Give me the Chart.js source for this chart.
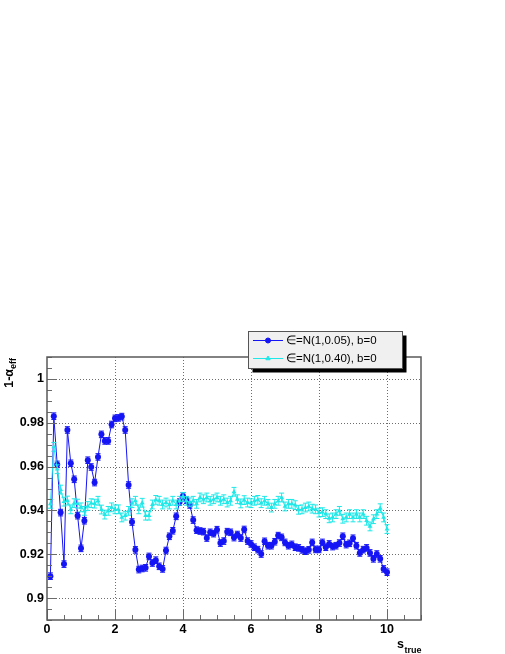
<!DOCTYPE html>
<html><head><meta charset="utf-8">
<script src="https://cdn.jsdelivr.net/npm/chart.js@4"></script>
<style>html,body{margin:0;padding:0;background:#fff;overflow:hidden}canvas{display:block}</style>
</head><body>
<canvas id="c" width="505" height="654"></canvas>
<script>
const sTrue = [0.1,0.2,0.3,0.4,0.5,0.6,0.7,0.8,0.9,1.0,1.1,1.2,1.3,1.4,1.5,1.6,1.7,1.8,1.9,2.0,
2.1,2.2,2.3,2.4,2.5,2.6,2.7,2.8,2.9,3.0,3.1,3.2,3.3,3.4,3.5,3.6,3.7,3.8,3.9,4.0,
4.1,4.2,4.3,4.4,4.5,4.6,4.7,4.8,4.9,5.0,5.1,5.2,5.3,5.4,5.5,5.6,5.7,5.8,5.9,6.0,
6.1,6.2,6.3,6.4,6.5,6.6,6.7,6.8,6.9,7.0,7.1,7.2,7.3,7.4,7.5,7.6,7.7,7.8,7.9,8.0,
8.1,8.2,8.3,8.4,8.5,8.6,8.7,8.8,8.9,9.0,9.1,9.2,9.3,9.4,9.5,9.6,9.7,9.8,9.9,10.0];

const blueValues = [0.910,0.983,0.961,0.939,0.9155,0.9767,0.9615,0.9542,0.9376,0.9227,
0.9353,0.9629,0.9598,0.9527,0.9644,0.9747,0.9717,0.9717,0.9792,0.982,
0.9822,0.9828,0.9767,0.9516,0.9347,0.922,0.913,0.9135,0.9138,0.919,
0.916,0.9173,0.9145,0.9133,0.9217,0.9282,0.9307,0.9373,0.9438,0.9466,
0.9447,0.9425,0.9356,0.931,0.9306,0.9303,0.9274,0.930,0.9294,0.9312,
0.9251,0.926,0.9303,0.930,0.9276,0.929,0.9274,0.9313,0.926,0.9247,
0.9232,0.9221,0.9201,0.9259,0.9239,0.9239,0.9257,0.9285,0.9277,0.9254,
0.9239,0.9245,0.9232,0.9229,0.922,0.9214,0.922,0.9254,0.9222,0.9222,
0.9254,0.9232,0.9247,0.9235,0.9239,0.9251,0.9282,0.9244,0.925,0.9273,
0.9239,0.9206,0.9221,0.9229,0.9206,0.9179,0.9201,0.9179,0.9133,0.9118];

const cyanValues = [0.943,0.969,0.9588,0.9495,0.944,0.9445,0.9405,0.9433,0.9431,0.9414,
0.9398,0.942,0.9433,0.9431,0.9444,0.9404,0.9381,0.9398,0.9414,0.9405,
0.9405,0.9368,0.9376,0.9398,0.9433,0.9444,0.9405,0.9435,0.9376,0.9376,
0.9427,0.9448,0.9444,0.9427,0.9436,0.9427,0.9444,0.9427,0.9444,0.9462,
0.9444,0.9437,0.9444,0.943,0.9459,0.9451,0.9459,0.9444,0.9451,0.9459,
0.9444,0.9451,0.9436,0.9444,0.9485,0.9451,0.9432,0.9447,0.9436,0.9433,
0.9444,0.9448,0.9433,0.9444,0.943,0.9413,0.943,0.9444,0.9459,0.9418,
0.943,0.943,0.9424,0.9403,0.9405,0.9413,0.9418,0.9408,0.9405,0.939,
0.9392,0.9383,0.9364,0.9368,0.9383,0.9398,0.9362,0.9368,0.9383,0.9368,
0.9383,0.9368,0.9383,0.9353,0.9327,0.936,0.9383,0.941,0.9368,0.9315];

const blueErr = 0.0015;
const cyanErr = 0.002;
const seriesLabels = ['\u2208=N(1,0.05), b=0', '\u2208=N(1,0.40), b=0'];
const xTickValues = [0,2,4,6,8,10];
const yTickValues = [0.9,0.92,0.94,0.96,0.98,1];
const xTitleMain = 's', xTitleSub = 'true';
const yTitleMain = '1-\u03B1', yTitleSub = 'eff';

const BLUE = 'rgb(20,20,245)';
const CYAN = 'rgb(30,232,232)';
const FONT = '"Liberation Sans", Arial, Helvetica, sans-serif';

function pts(vals){ return sTrue.map((x,i)=>({x:x, y:vals[i]})); }

const rootPlugin = {
  id: 'rootStyle',
  beforeDatasetsDraw(chart){
    const {ctx, chartArea:a, scales:{x,y}} = chart;
    ctx.save();
    ctx.strokeStyle = 'rgba(60,60,60,0.75)';
    ctx.lineWidth = 1;
    ctx.setLineDash([1,2]);
    xTickValues.forEach(v=>{ if(v===0) return; const px=Math.round(x.getPixelForValue(v))+0.5;
      ctx.beginPath(); ctx.moveTo(px,a.top); ctx.lineTo(px,a.bottom); ctx.stroke(); });
    yTickValues.forEach(v=>{ const py=Math.round(y.getPixelForValue(v))+0.5;
      ctx.beginPath(); ctx.moveTo(a.left,py); ctx.lineTo(a.right,py); ctx.stroke(); });
    ctx.restore();
  },
  beforeDatasetDraw(chart, args){
    const ds = chart.data.datasets[args.index];
    const err = ds.errorValue;
    const {ctx, scales:{x,y}} = chart;
    ctx.save();
    ctx.strokeStyle = ds.borderColor; ctx.lineWidth = 1;
    ds.data.forEach(p=>{
      const px = x.getPixelForValue(p.x);
      const y1 = y.getPixelForValue(p.y-err), y2 = y.getPixelForValue(p.y+err);
      ctx.beginPath();
      ctx.moveTo(px,y1); ctx.lineTo(px,y2);
      ctx.moveTo(px-2.5,y1); ctx.lineTo(px+2.5,y1);
      ctx.moveTo(px-2.5,y2); ctx.lineTo(px+2.5,y2);
      ctx.stroke();
    });
    ctx.restore();
  },
  afterDatasetsDraw(chart){
    const {ctx, chartArea:a, scales:{x,y}} = chart;
    ctx.save();
    // ticks
    ctx.strokeStyle = '#6a6a6a'; ctx.lineWidth = 1;
    for(let v=0; v<=11.0001; v+=0.5){
      const px = Math.round(x.getPixelForValue(v))+0.5;
      const major = Math.abs(v/2 - Math.round(v/2))<1e-6;
      ctx.beginPath(); ctx.moveTo(px,a.bottom); ctx.lineTo(px,a.bottom-(major?10:5)); ctx.stroke();
    }
    for(let k=0; k<=24; k++){
      const v = 0.89 + k*0.005;
      const py = Math.round(y.getPixelForValue(v))+0.5;
      const major = (k%4)===2;
      ctx.beginPath(); ctx.moveTo(a.left,py); ctx.lineTo(a.left+(major?10:5),py); ctx.stroke();
    }
    // frame
    ctx.strokeStyle = '#5a5a5a'; ctx.lineWidth = 1.5;
    ctx.strokeRect(Math.round(a.left), Math.round(a.top), Math.round(a.right-a.left), Math.round(a.bottom-a.top));
    // legend
    const lx=248.5, ly=331.5, lw=154, lh=37;
    ctx.fillStyle='#000'; ctx.fillRect(lx+4, ly+4, lw, lh);
    ctx.fillStyle='#f0f0f0'; ctx.fillRect(lx, ly, lw, lh);
    ctx.strokeStyle='#555'; ctx.lineWidth=1; ctx.strokeRect(lx, ly, lw, lh);
    const rows=[340.5, 358.5];
    chart.data.datasets.forEach((ds,i)=>{
      const ry = rows[i];
      ctx.strokeStyle = ds.borderColor; ctx.lineWidth=1;
      ctx.beginPath(); ctx.moveTo(253,ry); ctx.lineTo(283,ry); ctx.stroke();
      ctx.fillStyle = ds.borderColor;
      Chart.helpers.drawPoint(ctx, {pointStyle: ds.pointStyle, radius: ds.legendRadius, rotation:0, borderWidth:1}, 268, ry);
      ctx.fillStyle = '#000';
      ctx.font = '11.5px ' + FONT; ctx.textBaseline='middle'; ctx.textAlign='left';
      ctx.fillText(ds.label, 286, ry+0.5);
    });
    // x title
    ctx.fillStyle='#000'; ctx.textBaseline='alphabetic'; ctx.textAlign='left';
    ctx.font = 'bold 9px ' + FONT; const ws = ctx.measureText(xTitleSub).width;
    ctx.font = 'bold 12.5px ' + FONT; const wm = ctx.measureText(xTitleMain).width;
    const xEnd = 421.5;
    ctx.fillText(xTitleMain, xEnd-ws-wm-0.5, 648);
    ctx.font = 'bold 9px ' + FONT; ctx.fillText(xTitleSub, xEnd-ws, 652.5);
    // y title
    ctx.translate(13, 0); ctx.rotate(-Math.PI/2);
    ctx.font = 'bold 12.5px ' + FONT; const w1 = ctx.measureText(yTitleMain).width;
    ctx.font = 'bold 9px ' + FONT; const w2 = ctx.measureText(yTitleSub).width;
    const u0 = -358 - (w1+w2);
    ctx.font = 'bold 12.5px ' + FONT; ctx.fillText(yTitleMain, u0, 0);
    ctx.font = 'bold 9px ' + FONT; ctx.fillText(yTitleSub, u0+w1, 3);
    ctx.restore();
  }
};

new Chart(document.getElementById('c'), {
  type: 'line',
  data: {
    datasets: [
      { label: seriesLabels[0], data: pts(blueValues), errorValue: blueErr,
        borderColor: BLUE, backgroundColor: BLUE, borderWidth: 1,
        pointStyle: 'circle', pointRadius: 3, pointBorderWidth: 0, legendRadius: 2.5,
        tension: 0, order: 1 },
      { label: seriesLabels[1], data: pts(cyanValues), errorValue: cyanErr,
        borderColor: CYAN, backgroundColor: CYAN, borderWidth: 1,
        pointStyle: 'triangle', pointRadius: 2.8, pointBorderWidth: 0, legendRadius: 2.5,
        tension: 0, order: 0 }
    ]
  },
  options: {
    responsive: false, animation: false, devicePixelRatio: 1,
    layout: { padding: { top: 357, right: 84, left: 0, bottom: 0 } },
    plugins: { legend: { display: false }, tooltip: { enabled: false } },
    scales: {
      x: { type: 'linear', min: 0, max: 11,
        afterBuildTicks: s => { s.ticks = xTickValues.map(v=>({value:v})); },
        afterFit: s => { s.height = 34; },
        grid: { display: false, drawTicks: false }, border: { display: false },
        ticks: { color: '#000', font: { family: FONT, size: 12.5, weight: 'bold' }, padding: 2, maxRotation: 0, autoSkip: false,
          callback: v => String(+v.toFixed(2)) } },
      y: { type: 'linear', min: 0.89, max: 1.01,
        afterBuildTicks: s => { s.ticks = yTickValues.map(v=>({value:v})); },
        afterFit: s => { s.width = 47; },
        grid: { display: false, drawTicks: false }, border: { display: false },
        ticks: { color: '#000', font: { family: FONT, size: 12.5, weight: 'bold' }, padding: 3, autoSkip: false,
          callback: v => String(+v.toFixed(2)) } }
    }
  },
  plugins: [rootPlugin]
});
</script>
</body></html>
